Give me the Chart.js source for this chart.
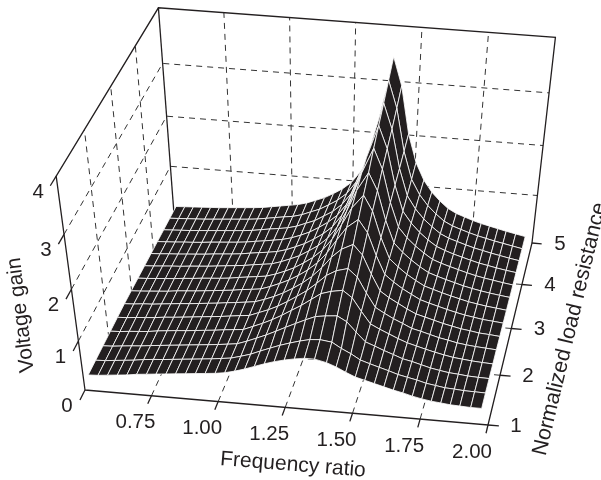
<!DOCTYPE html>
<html>
<head>
<meta charset="utf-8">
<title>Voltage gain surface</title>
<script src="https://cdn.jsdelivr.net/npm/chart.js@4/dist/chart.umd.min.js"></script>
<style>
  html, body { margin: 0; padding: 0; background: #fff; }
  canvas { display: block; }
</style>
</head>
<body>
<canvas id="surfaceChart" width="601" height="480"></canvas>
<script>
// axis ticks
const freqTicks = [0.75, 1.00, 1.25, 1.50, 1.75, 2.00];
const loadTicks = [1, 2, 3, 4, 5];
const gainTicks = [0, 1, 2, 3, 4];

// mesh positions
const freqValues = [0.515, 0.552, 0.588, 0.625, 0.661, 0.698, 0.735, 0.771, 0.808, 0.844, 0.881,
    0.918, 0.954, 0.991, 1.027, 1.064, 1.101, 1.137, 1.174, 1.21, 1.247, 1.284, 1.32, 1.357,
    1.40, 1.435, 1.47, 1.505, 1.54, 1.575, 1.61, 1.645, 1.68, 1.715, 1.75, 1.785, 1.82,
    1.855, 1.89, 1.93, 1.97];
const loadValues = [1.04, 1.34, 1.64, 1.95, 2.25, 2.55, 2.85, 3.15, 3.45, 3.75, 4.05, 4.35, 4.65, 4.96];

// one row per load value, one column per frequency value
const gainRows = [
    [.28,.29,.31,.33,.35,.38,.40,.42,.44,.46,.48,.50,.52,.54,.57,.62,.68,.75,.82,.88,.93,.97,1.0,1.0,.95,.88,.79,.71,.66,.61,.56,.51,.47,.42,.38,.35,.33,.31,.30,.29,.29],
    [.28,.29,.31,.33,.35,.38,.40,.415,.435,.455,.475,.495,.515,.54,.565,.62,.68,.76,.837,.909,.973,1.03,1.075,1.09,1.06,.95,.86,.75,.69,.635,.58,.52,.48,.44,.39,.36,.33,.32,.305,.30,.295],
    [.28,.29,.31,.33,.345,.37,.39,.41,.43,.45,.47,.49,.51,.535,.56,.63,.71,.79,.883,.977,1.07,1.16,1.24,1.27,1.29,1.19,1.0,.82,.75,.675,.61,.54,.50,.45,.40,.365,.335,.32,.30,.29,.285],
    [.28,.29,.31,.325,.34,.37,.39,.41,.425,.445,.465,.485,.51,.53,.55,.63,.71,.80,.905,1.02,1.135,1.27,1.40,1.46,1.50,1.37,1.115,.88,.79,.71,.63,.56,.51,.46,.415,.375,.34,.32,.30,.285,.275],
    [.28,.29,.31,.325,.34,.365,.38,.40,.42,.44,.46,.48,.505,.53,.55,.625,.70,.79,.90,1.02,1.15,1.31,1.48,1.59,1.65,1.50,1.20,.93,.825,.73,.65,.565,.52,.47,.42,.385,.345,.32,.30,.285,.27],
    [.28,.29,.31,.32,.34,.36,.38,.395,.415,.435,.455,.48,.50,.525,.55,.615,.69,.78,.89,1.01,1.16,1.35,1.57,1.74,1.85,1.66,1.30,.98,.86,.76,.66,.575,.525,.475,.425,.385,.345,.32,.29,.275,.255],
    [.27,.28,.295,.31,.325,.35,.365,.38,.40,.42,.44,.46,.49,.51,.535,.60,.68,.765,.875,1.0,1.16,1.375,1.64,1.90,2.07,1.83,1.40,1.04,.90,.78,.68,.585,.53,.48,.43,.385,.345,.315,.285,.265,.245],
    [.26,.27,.285,.30,.315,.335,.35,.37,.385,.40,.42,.45,.475,.50,.525,.585,.66,.745,.86,.985,1.15,1.38,1.685,2.02,2.28,1.99,1.49,1.09,.935,.80,.69,.59,.535,.48,.43,.385,.34,.31,.28,.255,.23],
    [.25,.26,.275,.29,.30,.32,.335,.35,.37,.39,.41,.43,.46,.485,.51,.57,.645,.725,.84,.96,1.125,1.36,1.695,2.11,2.46,2.13,1.57,1.14,.965,.825,.70,.595,.535,.48,.43,.38,.34,.305,.275,.245,.22],
    [.24,.25,.265,.275,.29,.305,.32,.34,.355,.37,.39,.42,.445,.47,.50,.555,.63,.71,.82,.94,1.10,1.35,1.70,2.20,2.68,2.30,1.67,1.20,1.0,.845,.715,.60,.535,.48,.43,.38,.335,.30,.27,.235,.205],
    [.23,.24,.25,.265,.275,.29,.31,.325,.34,.355,.375,.405,.43,.46,.49,.54,.61,.69,.80,.92,1.08,1.32,1.69,2.26,2.87,2.45,1.765,1.265,1.04,.865,.725,.605,.535,.475,.425,.375,.33,.295,.26,.225,.195],
    [.22,.23,.24,.25,.265,.28,.295,.31,.325,.34,.36,.39,.42,.445,.475,.525,.60,.67,.78,.89,1.05,1.29,1.67,2.29,3.06,2.59,1.85,1.33,1.075,.885,.74,.61,.53,.475,.42,.37,.33,.29,.255,.215,.18],
    [.21,.22,.23,.24,.25,.265,.28,.295,.31,.325,.345,.375,.405,.435,.46,.51,.585,.655,.76,.87,1.025,1.27,1.65,2.33,3.26,2.76,1.95,1.41,1.115,.91,.75,.615,.53,.47,.415,.365,.325,.285,.25,.21,.17],
    [.20,.21,.22,.23,.24,.25,.265,.28,.295,.31,.33,.36,.39,.42,.45,.50,.57,.64,.74,.85,1.0,1.24,1.62,2.35,3.47,2.95,2.05,1.50,1.16,.93,.76,.62,.53,.47,.41,.36,.32,.28,.24,.20,.16]
];

const inkColor = '#231f20';
const meshColor = 'rgba(255, 255, 255, 0.95)';

// perspective view of the box, fitted to its corners in the picture
function project(freq, load, gain) {
    const u = (freq - 0.5) / 1.5;
    const v = (load - 1) / 4;
    const w = gain / 4;
    const d = 1 - 0.01269 * u + 0.12726 * v - 0.11 * w;
    return {
        x: (396.81 * u + 111.14 * v - 35 * w + 85) / d,
        y: (29.61 * u - 148.77 * v - 233.3 * w + 390) / d
    };
}

function lineSet(points, opts) {
    return Object.assign({
        data: points,
        showLine: true,
        pointRadius: 0,
        borderColor: inkColor,
        borderWidth: 1,
        fill: false,
        tension: 0
    }, opts);
}

// datasets are painted last to first, so the front of the surface goes first
const datasets = [];

for (let k = 0; k < loadValues.length - 1; k++) {
    for (let i = freqValues.length - 2; i >= 0; i--) {
        const cell = [
            project(freqValues[i], loadValues[k], gainRows[k][i]),
            project(freqValues[i + 1], loadValues[k], gainRows[k][i + 1]),
            project(freqValues[i + 1], loadValues[k + 1], gainRows[k + 1][i + 1]),
            project(freqValues[i], loadValues[k + 1], gainRows[k + 1][i]),
            project(freqValues[i], loadValues[k], gainRows[k][i])
        ];
        datasets.push(lineSet(cell, { borderColor: meshColor, borderWidth: 0.85, backgroundColor: inkColor, fill: 'shape' }));
    }
}

const solid = { borderWidth: 1.3 };
const dashed = { borderDash: [6, 5], borderColor: '#333' };

// box outline
datasets.push(lineSet([project(0.5, 1, 0), project(2, 1, 0), project(2, 5, 0), project(2, 5, 4), project(0.5, 5, 4), project(0.5, 1, 4), project(0.5, 1, 0)], solid));
datasets.push(lineSet([project(0.5, 5, 0), project(0.5, 5, 4)], solid));

// ticks
freqTicks.forEach(f => datasets.push(lineSet([project(f, 1, 0), project(f, 0.84, 0)], solid)));
loadTicks.forEach(r => datasets.push(lineSet([project(2, r, 0), project(2.04, r, 0)], solid)));
gainTicks.forEach(g => datasets.push(lineSet([project(0.5, 1, g), project(0.5, 0.8, g)], solid)));

// dashed grid on floor and walls
freqTicks.slice(0, -1).forEach(f => {
    datasets.push(lineSet([project(f, 1, 0), project(f, 5, 0), project(f, 5, 4)], dashed));
});
loadTicks.slice(1, -1).forEach(r => {
    datasets.push(lineSet([project(2, r, 0), project(0.5, r, 0), project(0.5, r, 4)], dashed));
});
gainTicks.slice(1, -1).forEach(g => {
    datasets.push(lineSet([project(0.5, 1, g), project(0.5, 5, g), project(2, 5, g)], dashed));
});

const labelsPlugin = {
    id: 'boxLabels',
    afterDatasetsDraw(chart) {
        const ctx = chart.ctx;
        const sx = chart.scales.x;
        const sy = chart.scales.y;
        const text = (str, p, dx, dy) => ctx.fillText(str, sx.getPixelForValue(p.x) + dx, sy.getPixelForValue(p.y) + dy);
        const rotated = (str, x, y, deg) => {
            ctx.save();
            ctx.translate(x, y);
            ctx.rotate(deg * Math.PI / 180);
            ctx.fillText(str, 0, 0);
            ctx.restore();
        };
        ctx.save();
        ctx.fillStyle = inkColor;
        ctx.textAlign = 'center';
        ctx.textBaseline = 'middle';
        ctx.font = '20.5px "Liberation Sans", Arial, sans-serif';
        freqTicks.forEach(f => text(f.toFixed(2), project(f, 1, 0), -16, 27));
        loadTicks.forEach(r => text(String(r), project(2, r, 0), 28, 1));
        gainTicks.forEach(g => text(String(g), project(0.5, 1, g), -18, 16));
        ctx.font = '21px "Liberation Sans", Arial, sans-serif';
        rotated('Voltage gain', 21, 315, -97);
        rotated('Frequency ratio', 293, 465, 4.6);
        ctx.font = '21.5px "Liberation Sans", Arial, sans-serif';
        rotated('Normalized load resistance', 570, 329, -76.5);
        ctx.restore();
    }
};

new Chart(document.getElementById('surfaceChart').getContext('2d'), {
    type: 'scatter',
    data: { datasets: datasets },
    plugins: [labelsPlugin],
    options: {
        responsive: false,
        animation: false,
        layout: { padding: 0 },
        plugins: { legend: { display: false }, tooltip: { enabled: false } },
        scales: {
            x: { type: 'linear', display: false, min: 0, max: 601 },
            y: { type: 'linear', display: false, min: 0, max: 480, reverse: true }
        }
    }
});
</script>
</body>
</html>
